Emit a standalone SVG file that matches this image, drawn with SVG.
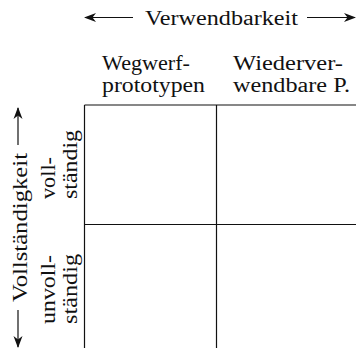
<svg xmlns="http://www.w3.org/2000/svg" width="356" height="348" viewBox="0 0 356 348">
  <style>
    .t { font-family: "Liberation Serif", "Times New Roman", serif; font-size: 20px; fill: #111; }
    .grid { stroke: #111; stroke-width: 1.2; fill: none; }
    .ax { stroke: #111; stroke-width: 1.2; fill: none; marker-end: url(#ah); }
  </style>
  <defs>
    <marker id="ah" viewBox="0 0 12 10" refX="11" refY="5" markerWidth="12" markerHeight="10" orient="auto" markerUnits="userSpaceOnUse">
      <path d="M0,0.5 L12,5 L0,9.5 L3.5,5 Z" fill="#111"/>
    </marker>
  </defs>
  <rect width="356" height="348" fill="#fff"/>

  <g id="axis-verwendbarkeit">
    <text class="t" x="145" y="25" textLength="153" lengthAdjust="spacingAndGlyphs">Verwendbarkeit</text>
  </g>
  <g id="axis-vollstaendigkeit">
    <text class="t" transform="translate(26.5,302) rotate(-90)" x="0" y="0" textLength="149" lengthAdjust="spacingAndGlyphs">Vollständigkeit</text>
  </g>

  <g id="col-wegwerf">
    <text class="t" x="102" y="70" textLength="88" lengthAdjust="spacingAndGlyphs">Wegwerf-</text>
    <text class="t" x="102" y="92" textLength="103" lengthAdjust="spacingAndGlyphs">prototypen</text>
  </g>
  <g id="col-wiederverwendbar">
    <text class="t" x="233" y="70" textLength="110" lengthAdjust="spacingAndGlyphs">Wiederver-</text>
    <text class="t" x="233" y="92" textLength="117" lengthAdjust="spacingAndGlyphs">wendbare P.</text>
  </g>

  <g id="row-vollstaendig">
    <text class="t" transform="translate(55,199) rotate(-90)" textLength="42" lengthAdjust="spacingAndGlyphs">voll-</text>
    <text class="t" transform="translate(77,199) rotate(-90)" textLength="69" lengthAdjust="spacingAndGlyphs">ständig</text>
  </g>
  <g id="row-unvollstaendig">
    <text class="t" transform="translate(55,324) rotate(-90)" textLength="69" lengthAdjust="spacingAndGlyphs">unvoll-</text>
    <text class="t" transform="translate(77,324) rotate(-90)" textLength="70" lengthAdjust="spacingAndGlyphs">ständig</text>
  </g>

  <g id="grid">
    <line class="grid" x1="84.5" y1="105" x2="356" y2="105"/>
    <line class="grid" x1="84.5" y1="224.5" x2="356" y2="224.5"/>
    <line class="grid" x1="84.5" y1="105" x2="84.5" y2="348"/>
    <line class="grid" x1="216.5" y1="105" x2="216.5" y2="348"/>
  </g>

  <g id="connectors">
    <line class="ax" x1="133" y1="17.5" x2="85" y2="17.5"/>
    <line class="ax" x1="307" y1="17.5" x2="355" y2="17.5"/>
    <line class="ax" x1="18" y1="145" x2="18" y2="108"/>
    <line class="ax" x1="18" y1="310" x2="18" y2="347"/>
  </g>
</svg>
